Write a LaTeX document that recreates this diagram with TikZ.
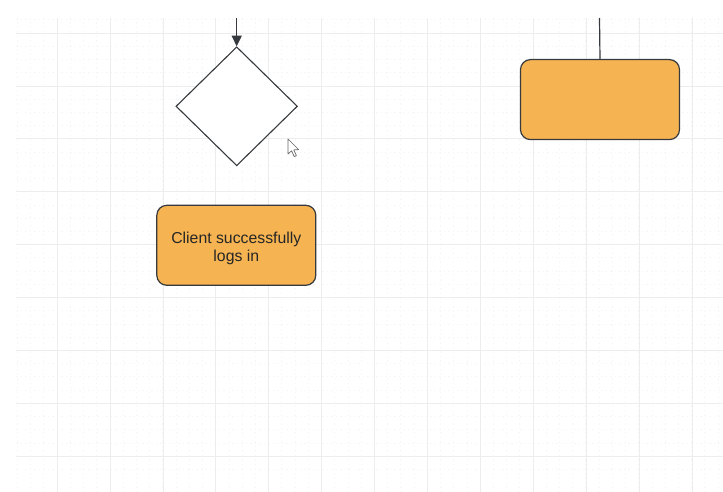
\documentclass[tikz,border=0pt]{standalone}
\usepackage{fontspec}
\setmainfont{Liberation Sans}
\usepackage{tikz}
\usepackage{xcolor}
\usetikzlibrary{shapes.geometric,arrows.meta}
\definecolor{boxorange}{HTML}{F5B352}
\definecolor{boxline}{HTML}{36393D}
\definecolor{gridmajor}{HTML}{EDEDED}
\definecolor{gridminor}{HTML}{F6F6F6}
\tikzset{
    decision-box/.style = {draw=boxline, fill=white, line width=1.1pt, diamond, inner sep=0pt, minimum width=121.5pt, minimum height=119pt},
    action-box/.style = {draw=boxline, fill=boxorange, line width=1.2pt, rectangle, rounded corners=10pt, minimum width=159pt, minimum height=80pt, align=center, font=\fontsize{15.8}{18}\selectfont, text=black!85},
    flow-line/.style = {draw=boxline, line width=1.2pt},
}

\begin{document}
\begin{tikzpicture}[x=1pt, y=-1pt]
\useasboundingbox (0,0) rectangle (723,492);
% background grid
\begin{scope}
\clip (16,18) rectangle (723,492);
\foreach \i in {0,...,56} {
    \draw[gridminor, line width=0.6pt, dash pattern=on 1.5pt off 3pt] (4.1+13.22*\i,18) -- (4.1+13.22*\i,492);
}
\foreach \j in {0,...,37} {
    \draw[gridminor, line width=0.6pt, dash pattern=on 1.5pt off 3pt] (16,-19.9+13.22*\j) -- (723,-19.9+13.22*\j);
}
\foreach \i in {1,...,13} {
    \draw[gridmajor, line width=0.6pt] (4.1+52.9*\i,18) -- (4.1+52.9*\i,492);
}
\foreach \j in {1,...,9} {
    \draw[gridmajor, line width=0.6pt] (16,-19.9+52.9*\j) -- (723,-19.9+52.9*\j);
}
\end{scope}

\node[action-box] (login) at (236.3,245.3) {\rule{0pt}{17pt}Client successfully\\logs in};
\node[decision-box] (check) at (236.7,106.3) {};
\node[action-box] (right-box) at (600,99.6) {};

\coordinate (check-in) at (236.7,18);
\coordinate (right-in) at (599.5,18);
\draw[flow-line, -{Triangle[length=10.5pt,width=10pt]}] (check-in) -- (check.north);
\draw[flow-line] (right-in) -- (right-box.north);

% mouse pointer
\draw[gray!80!black, fill=white, line width=0.7pt, line join=round]
    (288,139) -- (288,154) -- (291.6,150.8) -- (294.2,156.6) -- (296.4,155.6)
    -- (293.8,149.9) -- (298.6,149.6) -- cycle;
\end{tikzpicture}
\end{document}
